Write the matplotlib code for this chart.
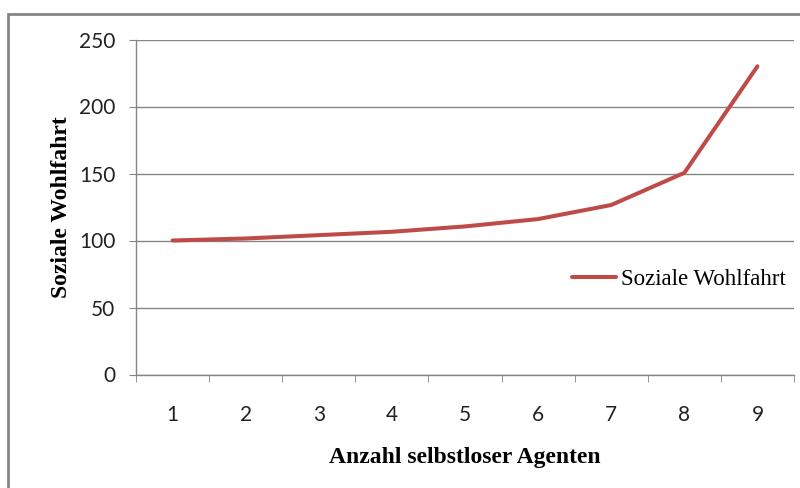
import matplotlib.pyplot as plt
from matplotlib.patches import Rectangle
import numpy as np

# Daten
agenten = [1, 2, 3, 4, 5, 6, 7, 8, 9]
wohlfahrt = [100, 101.5, 104, 106.5, 110.5, 116, 126.5, 150.5, 230]
y_ticks = [0, 50, 100, 150, 200, 250]

grau = '#868686'
rot = '#BE4B48'

fig = plt.figure(figsize=(8, 4.88), dpi=100)
# Rahmen des Diagrammbereichs (rechts/unten abgeschnitten)
fig.patches.append(Rectangle((7.5/800, -0.1), 1.2, 1 - 14.5/488 + 0.1,
                             transform=fig.transFigure, fill=False,
                             edgecolor=grau, lw=2))

ax = fig.add_axes([136/800, 1 - 374.5/488, 658/800, 335/488])
ax.plot(agenten, wohlfahrt, color=rot, lw=2.9, solid_capstyle='round',
        label='Soziale Wohlfahrt')

ax.set_xlim(0.5, 9.5)
ax.set_ylim(0, 250)
ax.set_yticks(y_ticks)
ax.set_xticks(agenten)
ax.set_xticks(np.arange(0.5, 10, 1), minor=True)
ax.tick_params(axis='x', which='major', length=0, pad=22)
ax.tick_params(axis='x', which='minor', length=5, color=grau, direction='out')
ax.tick_params(axis='y', length=5, color=grau, direction='out', pad=10)
for lbl in ax.get_xticklabels() + ax.get_yticklabels():
    lbl.set_fontfamily('Lato')
    lbl.set_fontsize(15)
    lbl.set_color('#222222')

ax.grid(axis='y', color=grau, lw=1)
ax.set_axisbelow(True)
for s in ['top', 'right']:
    ax.spines[s].set_visible(False)
for s in ['left', 'bottom']:
    ax.spines[s].set_color(grau)
    ax.spines[s].set_linewidth(1)

ax.set_xlabel('Anzahl selbstloser Agenten', fontfamily='Liberation Serif',
              fontweight='bold', fontsize=17, labelpad=16)
ax.set_ylabel('Soziale Wohlfahrt', fontfamily='Liberation Serif',
              fontweight='bold', fontsize=17, labelpad=5)

ax.legend(loc='center left', bbox_to_anchor=(0.632, 0.285), frameon=False,
          prop={'family': 'Liberation Serif', 'size': 16.5},
          handlelength=1.9, handletextpad=0.2)

plt.savefig('out.png', dpi=100)
